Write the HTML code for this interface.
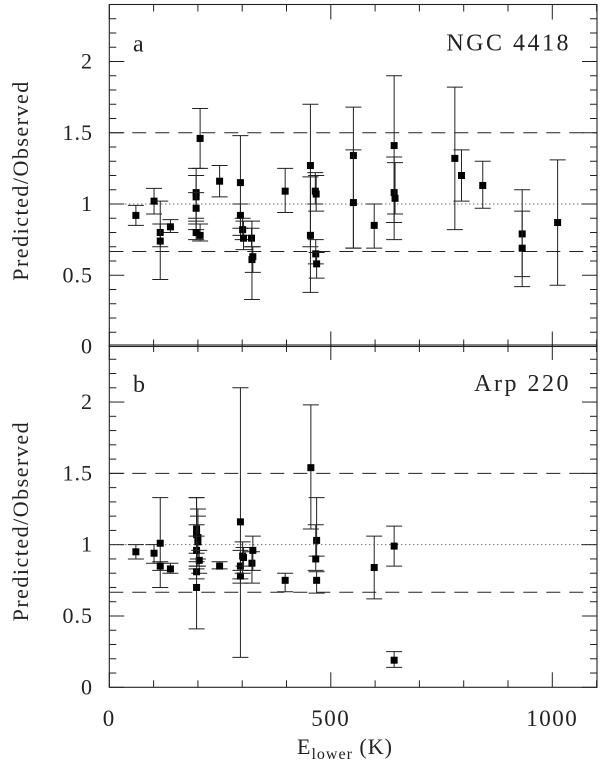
<!DOCTYPE html>
<html><head><meta charset="utf-8"><style>
body{margin:0;background:#fff;}
svg{display:block;font-family:"Liberation Serif",serif;}
</style></head><body>
<svg id="c" width="600" height="763" viewBox="0 0 600 763"></svg>
<script>
// Panel a (NGC 4418)
const aE  = [60,101,115,115,138,196,196,196,196,205,205,249,296,296,301,303,321,322,324,397,454,454,465,467,466,468,551,551,598,643,643,645,780,795,843,932,932,1012];
const aV  = [0.92,1.02,0.80,0.74,0.84,1.08,1.05,0.97,0.80,0.78,1.46,1.16,1.15,0.92,0.82,0.76,0.76,0.61,0.63,1.09,1.27,0.78,1.09,1.07,0.65,0.58,1.34,1.01,0.85,1.41,1.08,1.04,1.32,1.20,1.13,0.79,0.69,0.87];
const aLo = [0.85,0.93,0.47,0.70,0.80,0.86,0.90,0.82,0.75,0.74,1.25,1.05,0.78,0.83,0.75,0.68,0.70,0.33,0.52,0.94,0.38,0.70,1.00,0.95,0.58,0.48,0.69,0.69,0.69,0.75,0.87,0.93,0.82,1.02,0.97,0.49,0.42,0.43];
const aHi = [0.99,1.11,1.02,0.86,0.89,1.25,1.20,1.08,0.88,0.86,1.67,1.27,1.48,1.00,0.90,0.88,0.83,0.88,0.70,1.25,1.70,1.19,1.22,1.20,0.75,0.66,1.68,1.38,1.00,1.90,1.33,1.29,1.82,1.38,1.30,1.10,0.95,1.31];
// Panel b (Arp 220)
const bE  = [60,101,115,115,138,197,197,200,200,197,203,197,197,249,296,296,296,301,303,322,324,397,455,468,466,468,598,643,643];
const bV  = [0.95,0.94,1.01,0.85,0.83,1.11,1.07,1.02,1.05,0.96,0.89,0.81,0.70,0.85,1.16,0.85,0.78,0.92,0.91,0.87,0.96,0.75,1.54,1.03,0.90,0.75,0.84,0.99,0.19];
const bLo = [0.90,0.87,0.70,0.82,0.80,0.88,0.94,0.85,0.90,0.83,0.80,0.76,0.41,0.83,0.21,0.73,0.76,0.80,0.85,0.73,0.82,0.67,1.11,0.92,0.82,0.66,0.62,0.85,0.14];
const bHi = [1.00,1.00,1.33,0.88,0.87,1.33,1.14,1.25,1.20,1.06,0.96,0.85,1.33,0.88,2.10,0.96,0.82,1.02,0.98,0.95,1.06,0.80,1.98,1.33,1.14,0.81,1.06,1.13,0.25];
const xTicks = ["0","500","1000"];
const yTicks = ["0","0.5","1","1.5","2"];

const NS="http://www.w3.org/2000/svg";
const svg=document.getElementById('c');
const L=109.3, R=597;
const X=e=>L+e*0.443;
function mk(tag,at,parent){const el=document.createElementNS(NS,tag);for(const k in at)el.setAttribute(k,at[k]);(parent||svg).appendChild(el);return el;}

function panel(top,bot,E,V,Lo,Hi,letter,title,name){
  const g=mk('g',{});
  
  
  const s=(bot-top)/2.4;
  const Y=v=>bot-v*s;
  const l1=mk('line',{x1:L,x2:R,y1:Y(1.5),y2:Y(1.5),stroke:'#222','stroke-width':1,'stroke-dasharray':'14,9'},g);
  
  
  const l2=mk('line',{x1:L,x2:R,y1:Y(1/1.5),y2:Y(1/1.5),stroke:'#222','stroke-width':1,'stroke-dasharray':'14,9'},g);
  
  
  const l3=mk('line',{x1:L,x2:R,y1:Y(1),y2:Y(1),stroke:'#333','stroke-width':1,'stroke-dasharray':'1,3'},g);
  
  
  for(let e=0;e<=1100;e+=100){
    const len=e%500===0?15:7;
    mk('line',{x1:X(e),x2:X(e),y1:top,y2:top+len,stroke:'#222','stroke-width':1},g);
    mk('line',{x1:X(e),x2:X(e),y1:bot,y2:bot-len,stroke:'#222','stroke-width':1},g);
  }
  for(let i=0;i<=24;i++){
    const v=i/10, len=i%5===0?15:7;
    mk('line',{x1:L,x2:L+len,y1:Y(v),y2:Y(v),stroke:'#222','stroke-width':1},g);
    mk('line',{x1:R,x2:R-len,y1:Y(v),y2:Y(v),stroke:'#222','stroke-width':1},g);
  }
  yTicks.forEach((t,i)=>{
    const tx=mk('text',{x:93,y:Y(i*0.5)+7,'text-anchor':'end','font-size':22,'letter-spacing':1,fill:'#222'},g);
    tx.textContent=t;
    
    
  });
  for(let i=0;i<E.length;i++){
    const x=X(E[i]);
    const eb=mk('path',{d:`M${x},${Y(Lo[i])}V${Y(Hi[i])}M${x-8},${Y(Lo[i])}H${x+8}M${x-8},${Y(Hi[i])}H${x+8}`,stroke:'#222','stroke-width':1,fill:'none'},g);
    
    
    const p=mk('rect',{x:x-3.5,y:Y(V[i])-3.5,width:7,height:7,fill:'#000'},g);
    
    
  }
  const fr=mk('rect',{x:L,y:top,width:R-L,height:bot-top,fill:'none',stroke:'#222','stroke-width':1.1},g);
  
  
  const lt=mk('text',{x:133,y:top+47,'font-size':24,fill:'#222'},g);
  lt.textContent=letter;
  
  
  const tt=mk('text',{x:571,y:top+46,'text-anchor':'end','font-size':24,'letter-spacing':2.5,fill:'#222'},g);
  tt.textContent=title;
  
  
  const yt=mk('text',{x:0,y:0,'text-anchor':'middle','font-size':22,'letter-spacing':1.5,fill:'#222',transform:`translate(28,${(top+bot)/2+5}) rotate(-90)`},g);
  yt.textContent='Predicted/Observed';
  
  
}
panel(4.5,346.5,aE,aV,aLo,aHi,'a','NGC 4418','panel-ngc4418');
panel(345,687.3,bE,bV,bLo,bHi,'b','Arp 220','panel-arp220');
xTicks.forEach((t,i)=>{
  const tx=mk('text',{x:X(i*500),y:726,'text-anchor':'middle','font-size':23,'letter-spacing':1.5,fill:'#222'});
  tx.textContent=t;
  
  
});
const xt=mk('text',{x:345,y:754,'text-anchor':'middle','font-size':22,'letter-spacing':1,fill:'#222'});
xt.innerHTML='E<tspan font-size="16" dy="5">lower</tspan><tspan dy="-5">  (K)</tspan>';


</script>
</body></html>
